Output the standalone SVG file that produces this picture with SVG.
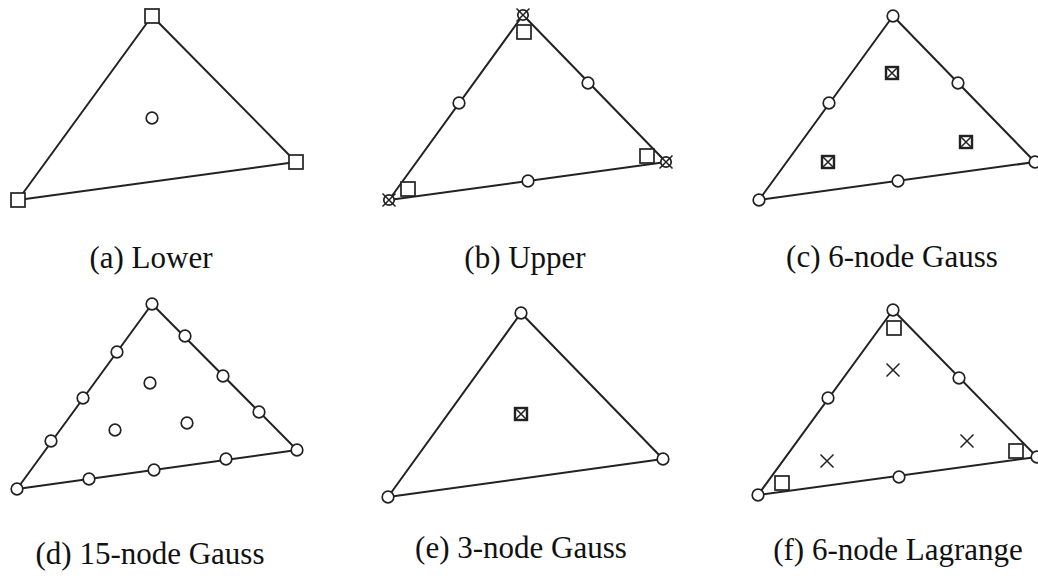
<svg xmlns="http://www.w3.org/2000/svg" xmlns:xlink="http://www.w3.org/1999/xlink" width="1038" height="576" viewBox="0 0 1038 576">
<style>
.edge{fill:none;stroke:#222;stroke-width:2;stroke-linejoin:round}
.nd{fill:#fff;stroke:#222;stroke-width:1.7}
.bx{fill:#fff;stroke:#222;stroke-width:2.4}
.ln{stroke:#222;stroke-width:1.5;fill:none}
.lbl{font-family:"Liberation Serif","Times New Roman",serif;font-size:31px;fill:#111;text-anchor:middle}
</style>
<defs>
<g id="circ"><circle r="5.8" class="nd"/></g>
<g id="sq"><rect x="-7" y="-7" width="14" height="14" class="nd"/></g>
<g id="bxx"><rect x="-6" y="-6" width="12" height="12" class="bx"/><path d="M-5,-5L5,5M5,-5L-5,5" class="ln"/></g>
<g id="otx"><circle r="5.2" class="nd"/><path d="M-6.5,-6.5L6.5,6.5M6.5,-6.5L-6.5,6.5" class="ln"/></g>
<g id="crs"><path d="M-6.5,-6.5L6.5,6.5M6.5,-6.5L-6.5,6.5" class="ln"/></g>
</defs>

<g id="connectors">
<polygon class="edge" points="18,200 152,16 296,162"/>
<polygon class="edge" points="389,200 523,15 666,162"/>
<polygon class="edge" points="759,200 893,16 1035,162"/>
<polygon class="edge" points="17,489 152,304 297,450"/>
<polygon class="edge" points="388,497 521,313 663,459"/>
<polygon class="edge" points="758,495 893,310 1037,457"/>
</g>

<g id="panel-a">
<g id="a-n1"><use href="#sq" x="152" y="16"/></g>
<g id="a-n2"><use href="#sq" x="18" y="200"/></g>
<g id="a-n3"><use href="#sq" x="296" y="162"/></g>
<g id="a-n4"><use href="#circ" x="152" y="118"/></g>
<text id="a-label" class="lbl" x="151" y="268">(a) Lower</text>
</g>

<g id="panel-b">
<g id="b-n1"><use href="#sq" x="524" y="32"/></g>
<g id="b-n2"><use href="#sq" x="408" y="189"/></g>
<g id="b-n3"><use href="#sq" x="647" y="156"/></g>
<g id="b-n4"><use href="#otx" x="523" y="15"/></g>
<g id="b-n5"><use href="#otx" x="389" y="200"/></g>
<g id="b-n6"><use href="#otx" x="666" y="162"/></g>
<g id="b-n7"><use href="#circ" x="459" y="103"/></g>
<g id="b-n8"><use href="#circ" x="588" y="83"/></g>
<g id="b-n9"><use href="#circ" x="528" y="181"/></g>
<text id="b-label" class="lbl" x="525" y="268">(b) Upper</text>
</g>

<g id="panel-c">
<g id="c-n1"><use href="#circ" x="893" y="16"/></g>
<g id="c-n2"><use href="#circ" x="759" y="200"/></g>
<g id="c-n3"><use href="#circ" x="1035" y="162"/></g>
<g id="c-n4"><use href="#circ" x="829" y="103"/></g>
<g id="c-n5"><use href="#circ" x="958" y="83"/></g>
<g id="c-n6"><use href="#circ" x="898" y="181"/></g>
<g id="c-n7"><use href="#bxx" x="892" y="73"/></g>
<g id="c-n8"><use href="#bxx" x="966" y="142"/></g>
<g id="c-n9"><use href="#bxx" x="828" y="162"/></g>
<text id="c-label" class="lbl" x="892" y="267">(c) 6-node Gauss</text>
</g>

<g id="panel-d">
<g id="d-n1"><use href="#circ" x="152" y="304"/></g>
<g id="d-n2"><use href="#circ" x="17" y="489"/></g>
<g id="d-n3"><use href="#circ" x="297" y="450"/></g>
<g id="d-n4"><use href="#circ" x="117" y="352"/></g>
<g id="d-n5"><use href="#circ" x="83" y="398"/></g>
<g id="d-n6"><use href="#circ" x="51" y="441"/></g>
<g id="d-n7"><use href="#circ" x="185" y="336"/></g>
<g id="d-n8"><use href="#circ" x="223" y="376"/></g>
<g id="d-n9"><use href="#circ" x="259" y="412"/></g>
<g id="d-n10"><use href="#circ" x="89" y="479"/></g>
<g id="d-n11"><use href="#circ" x="154" y="470"/></g>
<g id="d-n12"><use href="#circ" x="226" y="459"/></g>
<g id="d-n13"><use href="#circ" x="150" y="383"/></g>
<g id="d-n14"><use href="#circ" x="115" y="430"/></g>
<g id="d-n15"><use href="#circ" x="187" y="423"/></g>
<text id="d-label" class="lbl" x="150" y="564">(d) 15-node Gauss</text>
</g>

<g id="panel-e">
<g id="e-n1"><use href="#circ" x="521" y="313"/></g>
<g id="e-n2"><use href="#circ" x="388" y="497"/></g>
<g id="e-n3"><use href="#circ" x="663" y="459"/></g>
<g id="e-n4"><use href="#bxx" x="521" y="414"/></g>
<text id="e-label" class="lbl" x="521" y="558">(e) 3-node Gauss</text>
</g>

<g id="panel-f">
<g id="f-n1"><use href="#circ" x="893" y="310"/></g>
<g id="f-n2"><use href="#circ" x="758" y="495"/></g>
<g id="f-n3"><use href="#circ" x="1037" y="457"/></g>
<g id="f-n4"><use href="#circ" x="828" y="398"/></g>
<g id="f-n5"><use href="#circ" x="959" y="378"/></g>
<g id="f-n6"><use href="#circ" x="899" y="477"/></g>
<g id="f-n7"><use href="#sq" x="894" y="328"/></g>
<g id="f-n8"><use href="#sq" x="782" y="483"/></g>
<g id="f-n9"><use href="#sq" x="1016" y="451"/></g>
<g id="f-n10"><use href="#crs" x="893" y="370"/></g>
<g id="f-n11"><use href="#crs" x="967" y="441"/></g>
<g id="f-n12"><use href="#crs" x="827" y="461"/></g>
<text id="f-label" class="lbl" x="898" y="560">(f) 6-node Lagrange</text>
</g>
</svg>
